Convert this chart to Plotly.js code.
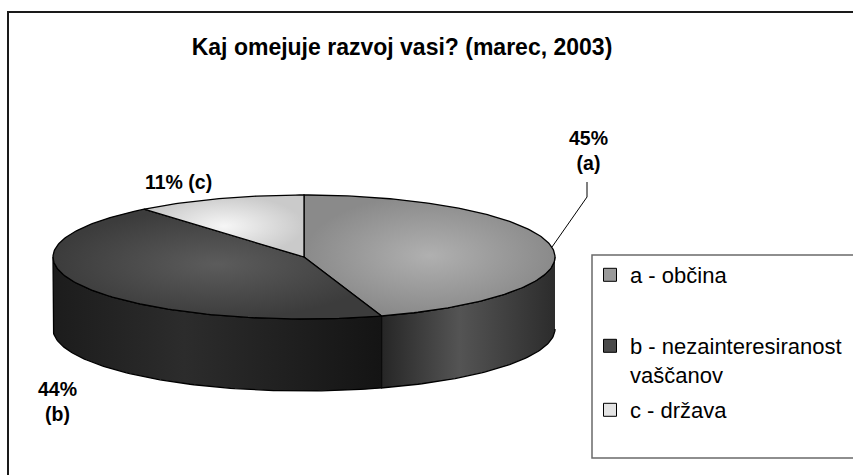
<!DOCTYPE html>
<html>
<head>
<meta charset="utf-8">
<script src="https://cdn.plot.ly/plotly-3.0.1.min.js"></script>
<style>html,body{margin:0;padding:0;background:#fff;}#chart{width:853px;height:475px;}</style>
</head>
<body>
<div id="chart"></div>
<script>
// ---- data ----
const categories = ['a', 'b', 'c'];
const legendNames = ['a - občina', 'b - nezainteresiranost<br>vaščanov', 'c - država'];
const values = [45, 44, 11];
const labelSeparators = ['<br>', '<br>', ' '];
const chartTitle = 'Kaj omejuje razvoj vasi? (marec, 2003)';

// ---- styles ----
const FONT = 'Liberation Sans, Arial, sans-serif';
const topCenterColors = ['#b0b0b0', '#5c5c5c', '#f6f6f6'];
const topEdgeColors = ['#8a8a8a', '#3c3c3c', '#cacaca'];
const sideScales = [
  [[0, '#262626'], [0.45, '#545454'], [1, '#2c2c2c']],
  [[0, '#1c1c1c'], [0.4, '#2c2c2c'], [1, '#141414']],
  [[0, '#aaaaaa'], [0.5, '#d0d0d0'], [1, '#aaaaaa']]
];
const legendColors = ['#9a9a9a', '#4a4a4a', '#e4e4e4'];
const labelPos = [[588, 150], [57, 401], [178, 182]];
const legendTops = [254, 325, 389];

// ---- geometry (pixel space via hidden axes) ----
const W = 853, H = 475;
const CX = 304, CY = 257, RX = 251, RY = 62, DEPTH = 72;
function pt(th) { const r = th * Math.PI / 180; return [CX + RX * Math.sin(r), CY - RY * Math.cos(r)]; }
function arc(a0, a1, dy) {
  const xs = [], ys = [];
  const n = Math.max(2, Math.ceil(Math.abs(a1 - a0)));
  for (let i = 0; i <= n; i++) { const p = pt(a0 + (a1 - a0) * i / n); xs.push(p[0]); ys.push(p[1] + dy); }
  return [xs, ys];
}

const total = values.reduce((s, v) => s + v, 0);
const starts = [], ends = [];
let acc = 0;
values.forEach(v => { starts.push(acc / total * 360); acc += v; ends.push(acc / total * 360); });

const traces = [];
// side walls (visible front half: 90..270 deg clockwise from top)
values.forEach((v, i) => {
  const lo = Math.max(starts[i], 90), hi = Math.min(ends[i], 270);
  if (hi <= lo) return;
  const t = arc(lo, hi, 0), b = arc(hi, lo, DEPTH);
  traces.push({
    type: 'scatter', mode: 'lines', x: t[0].concat(b[0]), y: t[1].concat(b[1]),
    fill: 'toself', fillcolor: sideScales[i][1][1],
    fillgradient: { type: 'horizontal', colorscale: sideScales[i] },
    line: { color: '#000', width: 1.3 }, showlegend: false, hoverinfo: 'skip'
  });
});
// top faces
values.forEach((v, i) => {
  const a = arc(starts[i], ends[i], 0);
  traces.push({
    type: 'scatter', mode: 'lines', x: [CX].concat(a[0], [CX]), y: [CY].concat(a[1], [CY]),
    fill: 'toself', fillcolor: topCenterColors[i],
    fillgradient: { type: 'radial', colorscale: [[0, topCenterColors[i]], [1, topEdgeColors[i]]] },
    line: { color: '#000', width: 1.3 }, showlegend: false, hoverinfo: 'skip'
  });
});
// legend entries (one legend per entry for Excel-like spacing)
const legendIds = ['legend', 'legend2', 'legend3'];
values.forEach((v, i) => {
  traces.push({
    type: 'scatter', mode: 'markers', x: [null], y: [null], name: legendNames[i],
    legend: legendIds[i],
    marker: { symbol: 'square', size: 13, color: legendColors[i], line: { color: '#000', width: 1 } },
    hoverinfo: 'skip'
  });
});

const annotations = values.map((v, i) => ({
  x: labelPos[i][0], y: labelPos[i][1], xref: 'x', yref: 'y',
  text: v + '%' + labelSeparators[i] + '(' + categories[i] + ')',
  showarrow: false, xanchor: 'center', yanchor: 'middle', align: 'center',
  font: { family: FONT, size: 19.5, color: '#000', weight: 'bold' }
}));

const layout = {
  width: W, height: H, autosize: false,
  margin: { l: 0, r: 0, t: 0, b: 0, pad: 0 },
  paper_bgcolor: '#fff', plot_bgcolor: 'rgba(0,0,0,0)',
  xaxis: { range: [0, W], visible: false, fixedrange: true },
  yaxis: { range: [H, 0], visible: false, fixedrange: true },
  title: {
    text: chartTitle, x: 402 / W, xanchor: 'center', xref: 'paper',
    y: 1 - 47 / H, yref: 'container', yanchor: 'middle',
    font: { family: FONT, size: 23, color: '#000', weight: 'bold' }
  },
  showlegend: true,
  annotations: annotations,
  shapes: [
    { type: 'rect', xref: 'x', yref: 'y', x0: 8, y0: 12, x1: 870, y1: 490, line: { color: '#1a1a1a', width: 2 }, layer: 'below' },
    { type: 'rect', xref: 'x', yref: 'y', x0: 592, y0: 255, x1: 870, y1: 458, line: { color: '#6a6a6a', width: 1.5 }, layer: 'below' },
    { type: 'path', xref: 'x', yref: 'y', path: 'M552,247 L587,197 L587,182', line: { color: '#000', width: 1 } }
  ]
};
legendIds.forEach((id, i) => {
  layout[id] = {
    x: 590 / W, xanchor: 'left', y: 1 - legendTops[i] / H, yanchor: 'top',
    font: { family: FONT, size: 22, color: '#000' },
    bgcolor: 'rgba(0,0,0,0)', borderwidth: 0, valign: 'top',
    itemclick: false, itemdoubleclick: false
  };
});

Plotly.newPlot('chart', traces, layout, { staticPlot: true, displayModeBar: false });
</script>
</body>
</html>
